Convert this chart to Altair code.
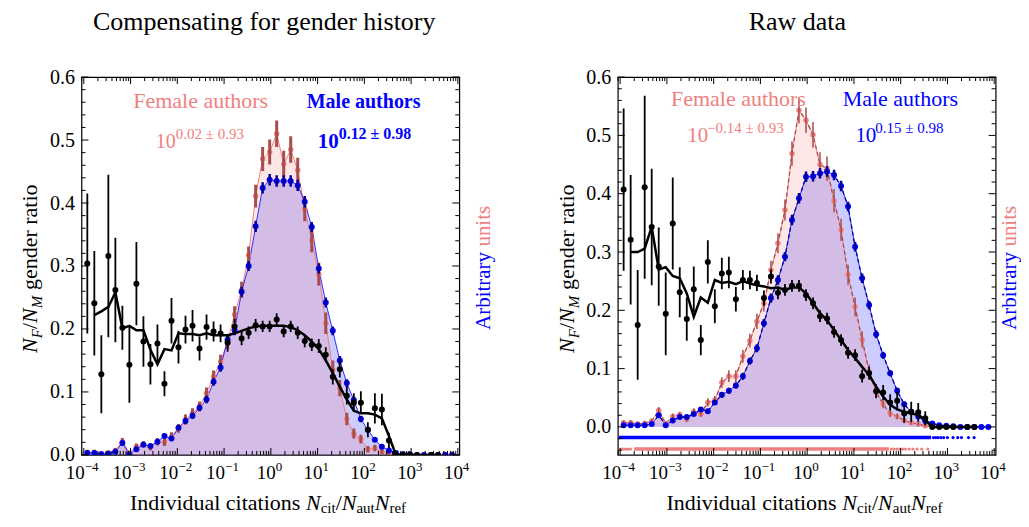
import altair as alt
import pandas as pd

FONT = "Times New Roman, Liberation Serif, DejaVu Serif, serif"
PINK = "#F08080"
PINK_ERR = "#A84C4C"
BLUE = "#0000FF"
BLUE_ERR = "#00009A"

# ---------------- data ----------------
bin_log10 = [-3.925, -3.775, -3.625, -3.475, -3.325, -3.175, -3.025, -2.875, -2.725, -2.575,
             -2.425, -2.275, -2.125, -1.975, -1.825, -1.675, -1.525, -1.375, -1.225, -1.075,
             -0.925, -0.775, -0.625, -0.475, -0.325, -0.175, -0.025, 0.125, 0.275, 0.425,
             0.575, 0.725, 0.875, 1.025, 1.175, 1.325, 1.475, 1.625, 1.775, 1.925,
             2.075, 2.225, 2.375, 2.525, 2.675, 2.825, 2.975, 3.125, 3.275, 3.425,
             3.575, 3.725, 3.875]

# Left panel: compensating for gender history
female_comp = [0.004, 0.004, 0.002, 0.003, 0.007, 0.021, 0.003, 0.013, 0.017, 0.012,
               0.021, 0.020, 0.029, 0.042, 0.056, 0.066, 0.077, 0.098, 0.124, 0.148,
               0.180, 0.223, 0.262, 0.317, 0.411, 0.470, 0.481, 0.510, 0.462, 0.485,
               0.452, 0.390, 0.341, 0.287, 0.209, 0.135, 0.106, 0.057, 0.034, 0.025,
               0.009, 0.011, 0.005, 0.002, 0.001, 0.001, 0.0, 0.0, 0.0, 0.0,
               0.0, 0.001, 0.001]
female_comp_err = [0.004, 0.004, 0.004, 0.004, 0.004, 0.006, 0.003, 0.005, 0.005, 0.005,
                   0.006, 0.006, 0.007, 0.007, 0.008, 0.008, 0.008, 0.009, 0.010, 0.011,
                   0.012, 0.013, 0.013, 0.014, 0.018, 0.019, 0.020, 0.021, 0.021, 0.021,
                   0.020, 0.019, 0.019, 0.018, 0.017, 0.015, 0.013, 0.010, 0.008, 0.007,
                   0.005, 0.005, 0.004, 0.002, 0.002, 0.002, 0.002, 0.002, 0.002, 0.002,
                   0.002, 0.002, 0.002]
male_comp = [0.003, 0.003, 0.001, 0.002, 0.005, 0.019, 0.001, 0.009, 0.016, 0.014,
             0.021, 0.030, 0.026, 0.043, 0.054, 0.062, 0.075, 0.088, 0.116, 0.139,
             0.183, 0.198, 0.259, 0.300, 0.363, 0.424, 0.437, 0.435, 0.435, 0.435,
             0.428, 0.402, 0.362, 0.296, 0.242, 0.197, 0.150, 0.114, 0.087, 0.057,
             0.040, 0.024, 0.013, 0.007, 0.003, 0.001, 0.001, 0.0, 0.0, 0.0,
             0.0, 0.0, 0.0]
male_err = [0.002, 0.002, 0.002, 0.002, 0.002, 0.003, 0.002, 0.003, 0.003, 0.003,
            0.003, 0.004, 0.004, 0.004, 0.005, 0.005, 0.005, 0.006, 0.006, 0.007,
            0.007, 0.008, 0.008, 0.008, 0.009, 0.009, 0.009, 0.009, 0.009, 0.009,
            0.009, 0.009, 0.008, 0.008, 0.008, 0.007, 0.007, 0.006, 0.005, 0.005,
            0.004, 0.003, 0.003, 0.002, 0.001, 0.001, 0.001, 0.001, 0.001, 0.001,
            0.001, 0.001, 0.001]
ratio_comp = [0.304, 0.241, 0.128, 0.316, 0.262, 0.202, 0.143, 0.272, 0.180, 0.144,
              0.177, 0.113, 0.213, 0.171, 0.199, 0.205, 0.169, 0.203, 0.196, 0.193,
              0.178, 0.204, 0.185, 0.194, 0.206, 0.204, 0.204, 0.215, 0.196, 0.204,
              0.194, 0.181, 0.175, 0.173, 0.159, 0.124, 0.136, 0.094, 0.083, 0.083,
              0.040, 0.074, 0.072, 0.023, 0.0, 0.0, 0.0, 0.0, None, 0.0,
              0.0, None, None]
ratio_comp_err = [0.111, 0.083, 0.062, 0.129, 0.083, 0.035, 0.060, 0.066, 0.040, 0.032,
                  0.030, 0.020, 0.036, 0.026, 0.022, 0.025, 0.019, 0.020, 0.016, 0.014,
                  0.014, 0.012, 0.011, 0.010, 0.010, 0.009, 0.009, 0.010, 0.009, 0.009,
                  0.010, 0.010, 0.010, 0.011, 0.012, 0.012, 0.013, 0.014, 0.015, 0.018,
                  0.012, 0.024, 0.025, 0.012, 0.003, 0.003, 0.003, 0.003, 0.003, 0.003,
                  0.003, 0.003, 0.003]
ratio_comp_smooth = [None, 0.222, 0.228, 0.235, 0.258, 0.201, 0.205, 0.198, 0.198, 0.167,
                     0.144, 0.168, 0.166, 0.193, 0.192, 0.192, 0.190, 0.193, 0.190, 0.190,
                     0.190, 0.193, 0.197, 0.201, 0.204, 0.205, 0.205, 0.205, 0.205, 0.203,
                     0.198, 0.190, 0.180, 0.168, 0.150, 0.130, 0.108, 0.088, 0.070, 0.066,
                     0.066, 0.064, 0.058, 0.030, 0.0, 0.0, 0.0, 0.0, 0.0, 0.0,
                     0.0, None, None]

# Right panel: raw data
female_raw = [0.007, 0.007, 0.005, 0.006, 0.010, 0.028, 0.006, 0.018, 0.021, 0.013,
              0.026, 0.022, 0.042, 0.046, 0.076, 0.087, 0.087, 0.121, 0.148, 0.181,
              0.212, 0.269, 0.315, 0.372, 0.469, 0.543, 0.526, 0.501, 0.450, 0.443,
              0.388, 0.338, 0.261, 0.206, 0.150, 0.095, 0.060, 0.039, 0.023, 0.018,
              0.011, 0.007, 0.005, 0.002, 0.001, 0.001, 0.0, 0.0, 0.0, 0.0,
              0.0, 0.0, 0.0]
female_raw_err = [0.004, 0.004, 0.004, 0.004, 0.004, 0.006, 0.003, 0.005, 0.005, 0.004,
                  0.006, 0.005, 0.007, 0.007, 0.009, 0.010, 0.010, 0.011, 0.012, 0.013,
                  0.014, 0.016, 0.017, 0.018, 0.021, 0.022, 0.022, 0.022, 0.021, 0.021,
                  0.020, 0.019, 0.017, 0.016, 0.014, 0.012, 0.009, 0.007, 0.006, 0.005,
                  0.004, 0.003, 0.003, 0.002, 0.002, 0.002, 0.002, 0.002, 0.002, 0.002,
                  0.002, 0.002, 0.002]
male_raw = [0.003, 0.003, 0.003, 0.003, 0.005, 0.020, 0.003, 0.011, 0.017, 0.017,
            0.022, 0.030, 0.027, 0.042, 0.055, 0.062, 0.071, 0.087, 0.113, 0.135,
            0.178, 0.221, 0.252, 0.292, 0.355, 0.392, 0.429, 0.430, 0.435, 0.438,
            0.432, 0.413, 0.378, 0.309, 0.255, 0.209, 0.159, 0.123, 0.092, 0.062,
            0.039, 0.026, 0.018, 0.010, 0.006, 0.003, 0.002, 0.001, 0.0, 0.0,
            0.0, 0.0, 0.0]
ratio_raw = [0.407, 0.321, 0.175, 0.411, 0.343, 0.275, 0.194, 0.349, 0.231, 0.185,
             0.236, 0.149, 0.283, 0.207, 0.263, 0.265, 0.219, 0.252, 0.252, 0.247,
             0.221, 0.258, 0.230, 0.235, 0.242, 0.242, 0.226, 0.212, 0.190, 0.186,
             0.163, 0.149, 0.127, 0.123, 0.087, 0.092, 0.061, 0.059, 0.042, 0.045,
             0.023, 0.026, 0.025, 0.015, 0.0, 0.0, 0.0, 0.0, None, 0.0,
             0.0, None, None]
ratio_raw_err = [0.139, 0.111, 0.094, 0.157, 0.100, 0.067, 0.071, 0.079, 0.043, 0.037,
                 0.039, 0.026, 0.037, 0.029, 0.027, 0.027, 0.021, 0.017, 0.016, 0.014,
                 0.013, 0.012, 0.011, 0.010, 0.010, 0.010, 0.010, 0.010, 0.010, 0.010,
                 0.010, 0.010, 0.010, 0.010, 0.011, 0.011, 0.012, 0.013, 0.014, 0.015,
                 0.016, 0.017, 0.016, 0.012, 0.003, 0.003, 0.003, 0.003, 0.003, 0.003,
                 0.003, 0.003, 0.003]
ratio_raw_smooth = [None, 0.300, 0.300, 0.306, 0.343, 0.270, 0.274, 0.259, 0.255, 0.229,
                    0.189, 0.222, 0.213, 0.252, 0.247, 0.249, 0.245, 0.250, 0.246, 0.243,
                    0.241, 0.238, 0.239, 0.235, 0.239, 0.239, 0.229, 0.212, 0.195, 0.183,
                    0.166, 0.149, 0.132, 0.118, 0.103, 0.089, 0.069, 0.052, 0.038, 0.030,
                    0.026, 0.023, 0.021, 0.012, 0.0, 0.0, 0.0, 0.0, 0.0, 0.0,
                    0.0, None, None]

# individual-value strips under the raw-data panel (log10 of x)
rug_male_y = -0.0183
rug_male_span = [-4.03, 2.65]
rug_male_dots = [2.70, 2.75, 2.80, 2.86, 2.92, 3.00, 3.12, 3.22, 3.30, 3.45, 3.57]
rug_female_y = -0.038
rug_female_span = [-3.70, 1.75]
rug_female_dots = [-3.98, -3.93, -3.88, -3.83, -3.78, 1.80, 1.86, 1.92, 1.98, 2.04,
                   2.10, 2.18, 2.26, 2.35, 2.45, 2.58]

x_tick_values = [1e-4, 1e-3, 1e-2, 1e-1, 1e0, 1e1, 1e2, 1e3, 1e4]
x_tick_exponents = ["\u22124", "\u22123", "\u22122", "\u22121", "0", "1", "2", "3", "4"]
y_tick_labels = [0.0, 0.1, 0.2, 0.3, 0.4, 0.5, 0.6]

# ---------------- layout ----------------
W = 378
H = 378
XMIN, XMAX = 10 ** -4.05, 10 ** 4.03
xscale = alt.Scale(type="log", domain=[XMIN, XMAX], nice=False)
X_AX = alt.X("v:Q", scale=xscale, axis=None)


def txt(s, x, y, size, color="black", align="left", angle=0, style="normal", weight="normal"):
    return alt.Chart(alt.Data(values=[{"k": 0}])).mark_text(
        text=s, align=align, baseline="alphabetic", font=FONT, fontSize=size,
        fontStyle=style, fontWeight=weight, color=color, angle=angle
    ).encode(x=alt.value(x), y=alt.value(y))


def panel(f, fe, m, me, r, re, rs, ydom, raw, title, title_x, leg, lab_off):
    xs = [10.0 ** v for v in bin_log10]
    df = pd.DataFrame({"x": xs, "f": f, "fe": fe, "m": m, "me": me,
                       "r": pd.to_numeric(pd.Series(r), errors="coerce"),
                       "re": re,
                       "rs": pd.to_numeric(pd.Series(rs), errors="coerce")})
    df["f_lo"] = df.f - df.fe
    df["f_hi"] = df.f + df.fe
    df["m_lo"] = df.m - df.me
    df["m_hi"] = df.m + df.me
    df["r_lo"] = df.r - df.re
    df["r_hi"] = df.r + df.re

    yscale = alt.Scale(domain=ydom, nice=False, zero=False)
    yaxis = alt.Axis(values=y_tick_labels, format=".1f", labelFont=FONT, labelFontSize=20,
                     labelColor="black", ticks=False, tickSize=0, domain=False, grid=False,
                     labelPadding=7, title=None)
    X = alt.X("x:Q", scale=xscale, axis=None)

    def Y(field):
        return alt.Y(field, type="quantitative", scale=yscale, axis=yaxis, stack=None)

    base = alt.Chart(df)
    L = []
    L.append(base.mark_area(color=BLUE, opacity=0.2, clip=True).encode(x=X, y=Y("m")))
    L.append(base.mark_area(color=PINK, opacity=0.2, clip=True).encode(x=X, y=Y("f")))
    L.append(base.mark_line(color=PINK, strokeWidth=1, clip=True).encode(x=X, y=Y("f")))
    L.append(base.mark_line(color=BLUE, strokeWidth=0.8, clip=True).encode(x=X, y=Y("m")))
    if raw:
        L.append(base.mark_line(color=PINK_ERR, strokeWidth=1.3, strokeDash=[4, 3], clip=True)
                 .encode(x=X, y=Y("f")))
        L.append(base.mark_line(color=BLUE_ERR, strokeWidth=1.3, strokeDash=[4, 3], clip=True)
                 .encode(x=X, y=Y("m")))
    L.append(base.mark_circle(color=PINK, size=30, opacity=1, clip=True).encode(x=X, y=Y("f")))
    L.append(base.mark_rule(color=PINK_ERR, strokeWidth=1.5 if raw else 3, clip=True)
             .encode(x=X, y=Y("f_lo"), y2=alt.Y2("f_hi")))
    L.append(base.mark_circle(color=BLUE, size=36, opacity=1, clip=True).encode(x=X, y=Y("m")))
    L.append(base.mark_rule(color=BLUE_ERR, strokeWidth=2.5, clip=True)
             .encode(x=X, y=Y("m_lo"), y2=alt.Y2("m_hi")))
    L.append(base.mark_line(color="black", strokeWidth=2.5, clip=True).encode(x=X, y=Y("rs")))
    L.append(base.mark_rule(color="black", strokeWidth=1.8, clip=True)
             .encode(x=X, y=Y("r_lo"), y2=alt.Y2("r_hi")))
    L.append(base.mark_circle(color="black", size=36, opacity=1, clip=True).encode(x=X, y=Y("r")))

    if raw:
        rugs = pd.DataFrame({"a": [10 ** rug_male_span[0], 10 ** rug_female_span[0]],
                             "b": [10 ** rug_male_span[1], 10 ** rug_female_span[1]],
                             "y": [rug_male_y, rug_female_y], "c": ["m", "f"]})
        L.append(alt.Chart(rugs).mark_rule(strokeWidth=3.5, clip=True).encode(
            x=alt.X("a:Q", scale=xscale, axis=None), x2="b:Q", y=Y("y"),
            color=alt.Color("c:N", scale=alt.Scale(domain=["m", "f"], range=[BLUE, PINK]), legend=None)))
        dots = pd.DataFrame({"v": [10 ** d for d in rug_male_dots] + [10 ** d for d in rug_female_dots],
                             "y": [rug_male_y] * len(rug_male_dots) + [rug_female_y] * len(rug_female_dots),
                             "c": ["m"] * len(rug_male_dots) + ["f"] * len(rug_female_dots)})
        L.append(alt.Chart(dots).mark_circle(size=10, opacity=1, clip=True).encode(
            x=X_AX, y=Y("y"),
            color=alt.Color("c:N", scale=alt.Scale(domain=["m", "f"], range=[BLUE, PINK]), legend=None)))

    # inward frame ticks
    x_minor = [mm * 10.0 ** k for k in range(-5, 4) for mm in range(2, 10)
               if XMIN <= mm * 10.0 ** k <= XMAX]
    for vals, ln in ((x_tick_values, 7), (x_minor, 4)):
        d = pd.DataFrame({"v": vals})
        L.append(alt.Chart(d).mark_rule(color="black", strokeWidth=1).encode(
            x=X_AX, y=alt.value(H), y2=alt.value(H - ln)))
        L.append(alt.Chart(d).mark_rule(color="black", strokeWidth=1).encode(
            x=X_AX, y=alt.value(0), y2=alt.value(ln)))
    y_minor = [i / 50 for i in range(-2, 31) if i % 5 != 0 and i / 50 >= ydom[0]]
    for vals, ln in ((y_tick_labels, 7), (y_minor, 4)):
        d = pd.DataFrame({"v": vals})
        L.append(alt.Chart(d).mark_rule(color="black", strokeWidth=1).encode(
            y=Y("v"), x=alt.value(0), x2=alt.value(ln)))
        L.append(alt.Chart(d).mark_rule(color="black", strokeWidth=1).encode(
            y=Y("v"), x=alt.value(W - ln), x2=alt.value(W)))

    # x tick labels 10^k
    lab = pd.DataFrame({"v": x_tick_values, "e": x_tick_exponents})
    for sel, dx in ((lab.iloc[:4], 1), (lab.iloc[4:], 5)):
        L.append(alt.Chart(sel).mark_text(text="10", align="right", baseline="alphabetic", dx=dx,
                                          font=FONT, fontSize=19, color="black").encode(
            x=X_AX, y=alt.value(H + 24)))
        L.append(alt.Chart(sel).mark_text(align="left", baseline="alphabetic", dx=dx,
                                          font=FONT, fontSize=13, color="black").encode(
            x=X_AX, y=alt.value(H + 16), text="e:N"))

    # title
    L.append(txt(title, title_x, -47, 26, align="center"))

    # y axis title  N_F / N_M gender ratio (rotated)
    bx = -44.2
    L.append(txt("N", bx, 276, 22, angle=270, style="italic"))
    L.append(txt("F", bx + 5, 261.3, 15, angle=270, style="italic"))
    L.append(txt("/", bx, 252.1, 22, angle=270))
    L.append(txt("N", bx, 246.0, 22, angle=270, style="italic"))
    L.append(txt("M", bx + 5, 231.3, 15, angle=270, style="italic"))
    L.append(txt("gender ratio", bx, 213.0, 22, angle=270))

    # right label "Arbitrary units"
    L.append(txt("Arbitrary", W + lab_off, 253, 21, color=BLUE, angle=270))
    L.append(txt("units", W + lab_off, 169.6, 21, color=PINK, angle=270))

    # x axis title
    by = H + 55
    L.append(txt("Individual citations", 48.6, by, 22))
    L.append(txt("N", 224.6, by, 22, style="italic"))
    L.append(txt("cit", 239.3, by + 3, 15))
    L.append(txt("/", 254.3, by, 22))
    L.append(txt("N", 260.4, by, 22, style="italic"))
    L.append(txt("aut", 275.1, by + 3, 15))
    L.append(txt("N", 293.4, by, 22, style="italic"))
    L.append(txt("ref", 308.1, by + 3, 15))

    # legend annotations
    L.extend(leg)
    return alt.layer(*L).properties(width=W, height=H)


leg_left = [
    txt("Female authors", 119.3, 31.3, 22, color=PINK, align="center"),
    txt("Male authors", 282.3, 31.3, 20, color=BLUE, align="center", weight="bold"),
    txt("10", 74.3, 71, 20, color=PINK),
    txt("0.02 \u00b1 0.93", 94.3, 62, 15, color=PINK),
    txt("10", 236.3, 71, 21, color=BLUE, weight="bold"),
    txt("0.12 \u00b1 0.98", 257.3, 62, 16, color=BLUE, weight="bold"),
]
leg_right = [
    txt("Female authors", 120.7, 28.7, 22, color=PINK, align="center"),
    txt("Male authors", 282.7, 28.7, 22, color=BLUE, align="center"),
    txt("10", 69.4, 64.7, 21, color=PINK),
    txt("\u22120.14 \u00b1 0.93", 89.4, 56.3, 15, color=PINK),
    txt("10", 237.7, 64.7, 21, color=BLUE),
    txt("0.15 \u00b1 0.98", 257.7, 56.3, 15, color=BLUE),
]

left = panel(female_comp, female_comp_err, male_comp, male_err, ratio_comp, ratio_comp_err,
             ratio_comp_smooth, [0, 0.6], False, "Compensating for gender history", 182.8,
             leg_left, 31)
right = panel(female_raw, female_raw_err, male_raw, male_err, ratio_raw, ratio_raw_err,
              ratio_raw_smooth, [-0.048, 0.6], True, "Raw data", 179.7, leg_right, 20.5)

chart = alt.hconcat(left, right, spacing=158.6, bounds="flush").properties(
    padding={"left": 10.5, "top": 0, "right": 0, "bottom": 0}
).configure_view(stroke="black", strokeWidth=1.2)

chart.save("out.html", embed_options={"renderer": "svg", "actions": False})
